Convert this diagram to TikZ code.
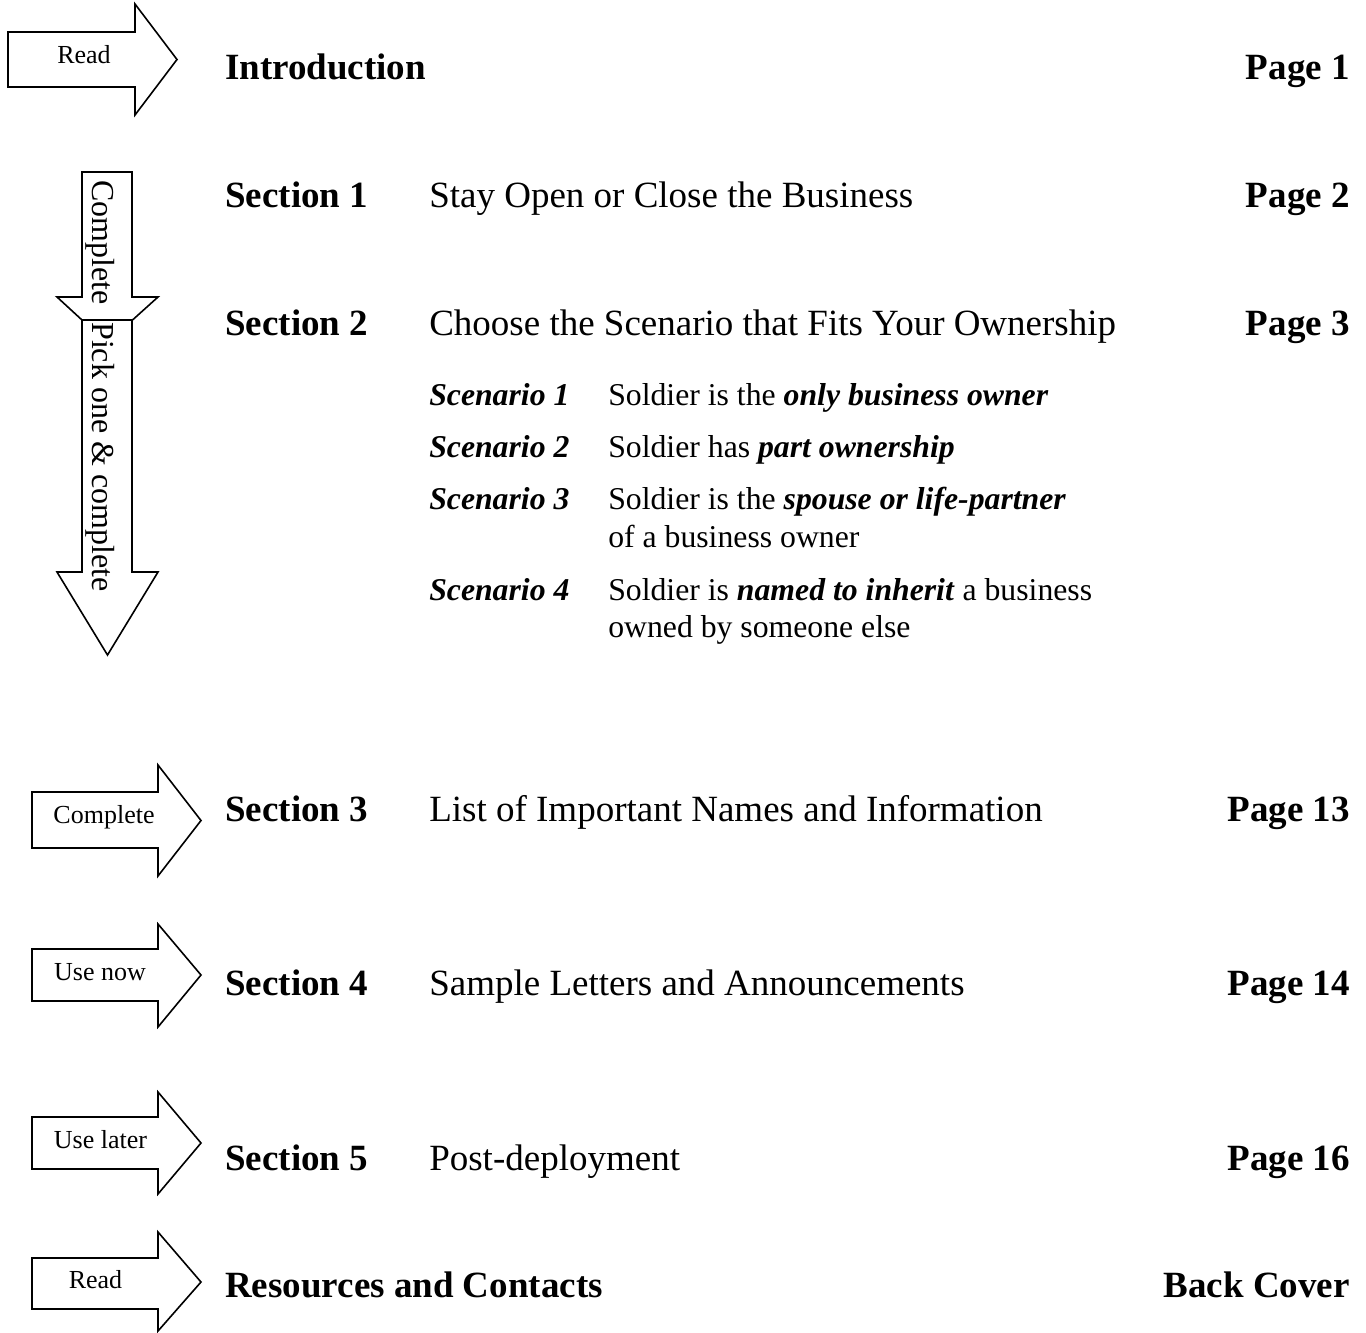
\documentclass[tikz,border=0pt]{standalone}
\usepackage{fontspec}
\setmainfont{Liberation Serif}
\begin{document}
\begin{tikzpicture}[x=0.75pt,y=-0.75pt,
  arrowshape/.style={draw=black,line width=1.2pt,fill=white,line join=miter},
  lbl/.style={inner sep=0pt,anchor=base,font=\fontsize{19.5}{22}\selectfont},
  big/.style={inner sep=0pt,anchor=base west,font=\fontsize{27.75}{32}\selectfont},
  bigb/.style={inner sep=0pt,anchor=base west,font=\fontsize{27.75}{32}\selectfont\bfseries},
  pagelbl/.style={inner sep=0pt,anchor=base east,font=\fontsize{27.75}{32}\selectfont\bfseries},
  scen/.style={inner sep=0pt,anchor=base west,font=\fontsize{23.8}{28}\selectfont},
  scenb/.style={inner sep=0pt,anchor=base west,font=\fontsize{23.8}{28}\selectfont\bfseries\itshape},
  vert/.style={inner sep=0pt,anchor=base west,rotate=-90,font=\fontsize{24}{28}\selectfont}]
\useasboundingbox (0,0) rectangle (1366,1332);

% right-pointing arrows
\draw[arrowshape] (8,32) -- (135,32) -- (135,4) -- (177,59.5) -- (135,115) -- (135,87) -- (8,87) -- cycle;
\node[lbl] (la) at (84,63) {Read};

\draw[arrowshape] (32,792) -- (158,792) -- (158,765) -- (201,820.5) -- (158,876) -- (158,848) -- (32,848) -- cycle;
\node[lbl] (lb) at (104,823) {Complete};

\draw[arrowshape] (32,949) -- (158,949) -- (158,924) -- (201,975) -- (158,1027) -- (158,1001) -- (32,1001) -- cycle;
\node[lbl] (lc) at (100,980) {Use now};

\draw[arrowshape] (32,1117) -- (158,1117) -- (158,1092) -- (201,1143) -- (158,1194) -- (158,1169) -- (32,1169) -- cycle;
\node[lbl] (ld) at (100.5,1148) {Use later};

\draw[arrowshape] (32,1258) -- (158,1258) -- (158,1232) -- (201,1282) -- (158,1331) -- (158,1309) -- (32,1309) -- cycle;
\node[lbl] (le) at (95.5,1288) {Read};

% vertical arrows
\draw[arrowshape] (82,172) -- (132,172) -- (132,297) -- (158,297) -- (107,343) -- (57,297) -- (82,297) -- cycle;
\draw[arrowshape] (82,320) -- (132,320) -- (132,572) -- (158,572) -- (107.5,655) -- (57,572) -- (82,572) -- cycle;
\node[vert] (v1) at (92,180) {Complete};
\node[vert] (v2) at (92,322) {Pick one \& complete};

% rows
\node[bigb] (intro) at (225,79) {Introduction};
\node[pagelbl] (p1) at (1350,79) {Page 1};

\node[bigb] (s1) at (225,207) {Section 1};
\node[big] (d1) at (429,207) {Stay Open or Close the Business};
\node[pagelbl] (p2) at (1350,207) {Page 2};

\node[bigb] (s2) at (225,335) {Section 2};
\node[big] (d2) at (429,335) {Choose the Scenario that Fits Your Ownership};
\node[pagelbl] (p3) at (1350,335) {Page 3};

\node[scenb] (sc1) at (429,405) {Scenario 1};
\node[scen] (sd1) at (608,405) {Soldier is the \textbf{\textit{only business owner}}};
\node[scenb] (sc2) at (429,457) {Scenario 2};
\node[scen] (sd2) at (608,457) {Soldier has \textbf{\textit{part ownership}}};
\node[scenb] (sc3) at (429,509) {Scenario 3};
\node[scen] (sd3) at (608,509) {Soldier is the \textbf{\textit{spouse or life-partner}}};
\node[scen] (sd3b) at (608,547) {of a business owner};
\node[scenb] (sc4) at (429,600) {Scenario 4};
\node[scen] (sd4) at (608,600) {Soldier is \textbf{\textit{named to inherit}} a business};
\node[scen] (sd4b) at (608,637) {owned by someone else};

\node[bigb] (s3) at (225,821) {Section 3};
\node[big] (d3) at (429,821) {List of Important Names and Information};
\node[pagelbl] (p13) at (1350,821) {Page 13};

\node[bigb] (s4) at (225,995) {Section 4};
\node[big] (d4) at (429,995) {Sample Letters and Announcements};
\node[pagelbl] (p14) at (1350,995) {Page 14};

\node[bigb] (s5) at (225,1170) {Section 5};
\node[big] (d5) at (429,1170) {Post-deployment};
\node[pagelbl] (p16) at (1350,1170) {Page 16};

\node[bigb] (res) at (225,1297) {Resources and Contacts};
\node[pagelbl] (bc) at (1350,1297) {Back Cover};
\end{tikzpicture}
\end{document}
